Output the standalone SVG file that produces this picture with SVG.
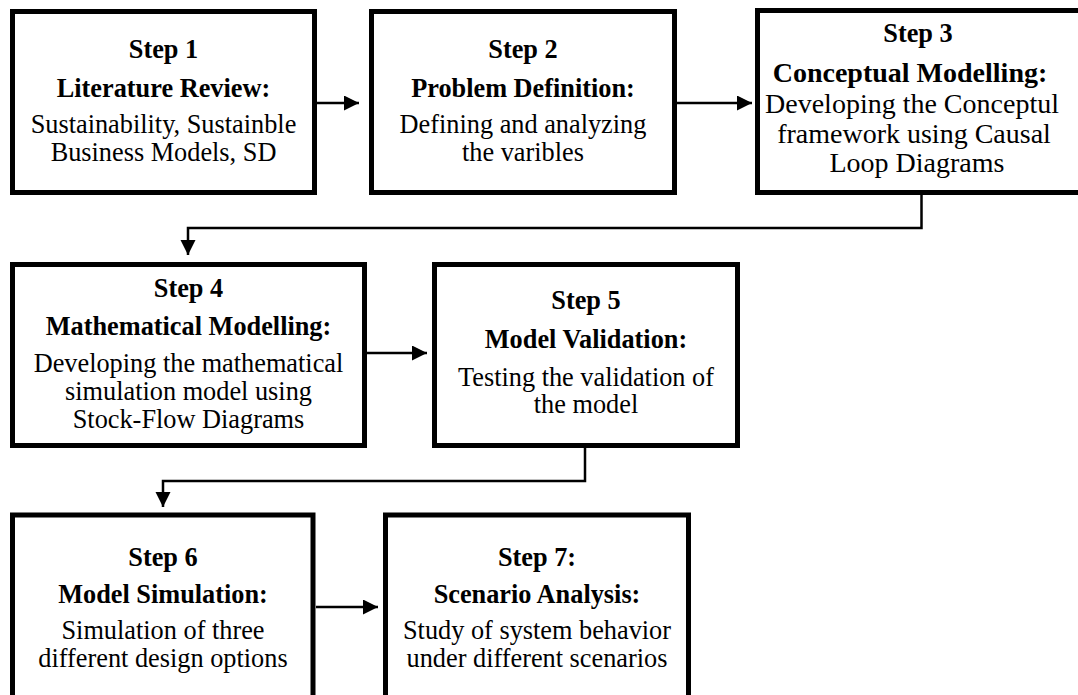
<svg xmlns="http://www.w3.org/2000/svg" width="1078" height="695" viewBox="0 0 1078 695">
<style>
.box{fill:#fff;stroke:#000;stroke-width:5}
.t{font-family:"Liberation Serif","Times New Roman",serif;font-size:26.3px;text-anchor:middle;fill:#000}
.b{font-weight:bold}
.l{font-size:28px}
.c{fill:none;stroke:#000;stroke-width:2.5}
</style>
<defs>
<marker id="ah" markerUnits="userSpaceOnUse" markerWidth="16" markerHeight="16" refX="15" refY="7.5" orient="auto">
<path d="M0,0 L15,7.5 L0,15 Z" fill="#000"/>
</marker>
</defs>
<rect width="1078" height="695" fill="#fff"/>
<g id="connectors">
<path class="c" d="M317,103 H359" marker-end="url(#ah)"/>
<path class="c" d="M677,103 H752" marker-end="url(#ah)"/>
<path class="c" d="M921.5,195 V228 H188 V255" marker-end="url(#ah)"/>
<path class="c" d="M367,353 H427" marker-end="url(#ah)"/>
<path class="c" d="M585,448 V481 H163 V507" marker-end="url(#ah)"/>
<path class="c" d="M316,607 H378" marker-end="url(#ah)"/>
</g>
<g id="step1">
<rect class="box" x="12.5" y="11.5" width="302" height="181"/>
<text class="t b" x="163.5" y="58">Step 1</text>
<text class="t b" x="163.5" y="97">Literature Review:</text>
<text class="t" x="163.5" y="133">Sustainability, Sustainble</text>
<text class="t" x="163.5" y="161">Business Models, SD</text>
</g>
<g id="step2">
<rect class="box" x="371.5" y="11.5" width="303" height="181"/>
<text class="t b" x="523" y="58">Step 2</text>
<text class="t b" x="523" y="97">Problem Definition:</text>
<text class="t" x="523" y="133">Defining and analyzing</text>
<text class="t" x="523" y="161">the varibles</text>
</g>
<g id="step3">
<rect class="box" x="757.5" y="10.5" width="330" height="182"/>
<text class="t b" x="918" y="42">Step 3</text>
<text class="t b l" x="910" y="82">Conceptual Modelling:</text>
<text class="t l" x="912" y="113">Developing the Conceptul</text>
<text class="t l" x="914" y="143">framework using Causal</text>
<text class="t l" x="917" y="172">Loop Diagrams</text>
</g>
<g id="step4">
<rect class="box" x="12.5" y="264.5" width="352" height="181"/>
<text class="t b" x="188.5" y="297">Step 4</text>
<text class="t b" x="188.5" y="335">Mathematical Modelling:</text>
<text class="t" x="188.5" y="372">Developing the mathematical</text>
<text class="t" x="188.5" y="400">simulation model using</text>
<text class="t" x="188.5" y="428">Stock-Flow Diagrams</text>
</g>
<g id="step5">
<rect class="box" x="434.5" y="264.5" width="303" height="181"/>
<text class="t b" x="586" y="309">Step 5</text>
<text class="t b" x="586" y="348">Model Validation:</text>
<text class="t" x="586" y="386">Testing the validation of</text>
<text class="t" x="586" y="413">the model</text>
</g>
<g id="step6">
<rect class="box" x="12.5" y="515" width="300.5" height="183"/>
<text class="t b" x="163" y="566">Step 6</text>
<text class="t b" x="163" y="603">Model Simulation:</text>
<text class="t" x="163" y="639">Simulation of three</text>
<text class="t" x="163" y="667">different design options</text>
</g>
<g id="step7">
<rect class="box" x="385.5" y="515" width="303" height="183"/>
<text class="t b" x="537" y="566">Step 7:</text>
<text class="t b" x="537" y="603">Scenario Analysis:</text>
<text class="t" x="537" y="639">Study of system behavior</text>
<text class="t" x="537" y="667">under different scenarios</text>
</g>
</svg>
